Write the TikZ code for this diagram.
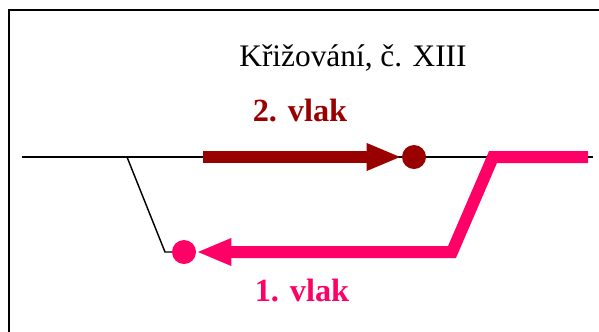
\documentclass[tikz,border=0pt]{standalone}
\usepackage{fontspec}
\setmainfont{Liberation Serif}
\usetikzlibrary{arrows.meta,positioning}
\definecolor{trainred}{HTML}{990000}
\definecolor{trainpink}{HTML}{FF0066}

\begin{document}
\begin{tikzpicture}[x = 0.025cm, y = -0.025cm,
		track/.style = {draw = black, line width = 1pt},
		dot_node/.style = {circle, fill = #1, minimum size = 0.6cm, inner sep = 0pt},
		train/.style = {draw = #1, line width = 0.3cm, -{Triangle[length = 0.875cm, width = 0.625cm]}},
		train_label/.style = {anchor = base, text = #1, font = \fontsize{23}{27}\selectfont\bfseries},
		]
		\useasboundingbox (0,0) rectangle (599,331);
		\draw[line width = 1.4pt] (9,345) -- (9,10) -- (620,10);
		
		%title
		\node[anchor = base, font = \fontsize{22.3}{26}\selectfont](title) at (353,66){Křižování, č. XIII};
		
		%track
		\coordinate (west) at (22,157);
		\coordinate (east) at (593,157);
		\coordinate (switch) at (127,157);
		\coordinate (siding) at (165,252);
		\draw[track] (west) -- (east);
		\draw[track] (switch) -- (siding) -- ++(10,0);
		
		%2
		\node[dot_node = trainred](dot2) at (414,157){};
		\coordinate (start2) at (203,157);
		\draw[train = trainred] (start2) -- (dot2);
		\node[train_label = trainred](label2) at (300,121){2. vlak};
		
		%1
		\node[dot_node = trainpink](dot1) at (184,252){};
		\coordinate (start1) at (588,157);
		\coordinate (bend1) at (493,157);
		\coordinate (bend2) at (452,252);
		\draw[train = trainpink] (start1) -- (bend1) -- (bend2) -- (dot1);
		\node[train_label = trainpink](label1) at (302,301){1. vlak};
\end{tikzpicture}
\end{document}
